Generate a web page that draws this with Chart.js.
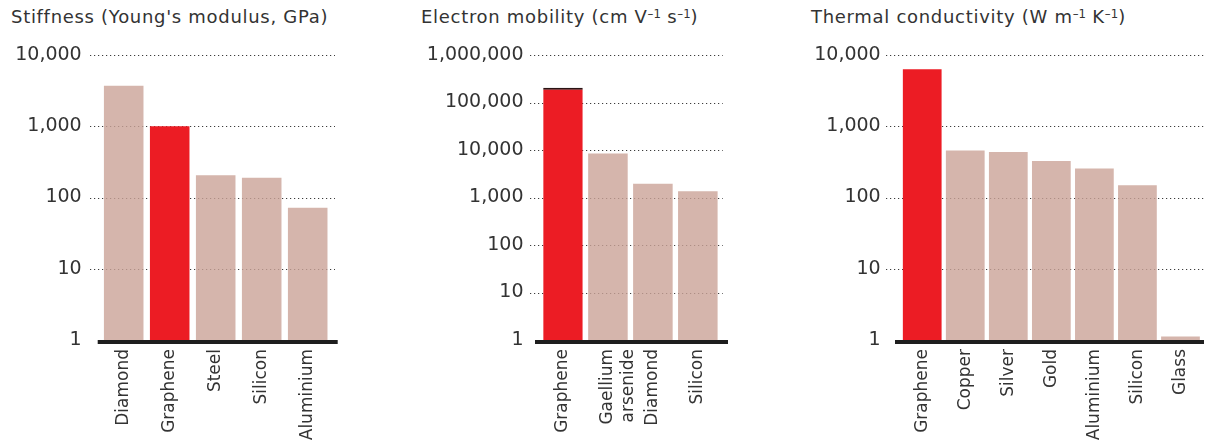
<!DOCTYPE html>
<html lang="en">
<head>
<meta charset="UTF-8">
<title>Graphene compared with other materials</title>
<style>
  body {
    margin: 0;
    background: #ffffff;
    width: 1210px;
    height: 445px;
    position: relative;
    overflow: hidden;
    font-family: "DejaVu Sans", sans-serif;
    color: #333333;
  }
  .title {
    position: absolute;
    top: 6px;
    font-size: 18px;
    letter-spacing: 0.7px;
    white-space: nowrap;
    color: #333333;
  }
  .title sup {
    font-size: 0.65em;
    vertical-align: 0.4em;
    line-height: 0;
    letter-spacing: 0;
  }
  canvas {
    position: absolute;
    top: 0;
  }
</style>
<script src="https://cdn.jsdelivr.net/npm/chart.js"></script>
</head>
<body>
<div class="title" style="left:11px">Stiffness (Young's modulus, GPa)</div>
<div class="title" style="left:421px">Electron mobility (cm V<sup>–1</sup> s<sup>–1</sup>)</div>
<div class="title" style="left:811px">Thermal conductivity (W m<sup>–1</sup> K<sup>–1</sup>)</div>

<canvas id="stiffChart" width="345" height="445" style="left:0px"></canvas>
<canvas id="mobilityChart" width="320" height="445" style="left:410px"></canvas>
<canvas id="thermalChart" width="400" height="445" style="left:810px"></canvas>

<script>
// Stiffness (GPa)
const stiffLabels = ["Diamond", "Graphene", "Steel", "Silicon", "Aluminium"];
const stiffValues = [3700, 1000, 205, 190, 72];
const stiffTicks = [1, 10, 100, 1000, 10000];

// Electron mobility (cm2 V-1 s-1)
const mobilityLabels = ["Graphene", ["Gaellium", "arsenide"], "Diamond", "Silicon"];
const mobilityValues = [205000, 8400, 1950, 1350];
const mobilityTicks = [1, 10, 100, 1000, 10000, 100000, 1000000];

// Thermal conductivity (W m-1 K-1)
const thermalLabels = ["Graphene", "Copper", "Silver", "Gold", "Aluminium", "Silicon", "Glass"];
const thermalValues = [6300, 455, 435, 325, 255, 148, 1.12];
const thermalTicks = [1, 10, 100, 1000, 10000];

const HIGHLIGHT = "Graphene";
const RED = "#ec1c24";
const PINK = "rgba(203, 163, 151, 0.8)";
const FONT = "'DejaVu Sans', sans-serif";

// dotted gridlines under the bars, heavy baseline on top
const framePlugin = {
    id: 'frame',
    beforeDatasetsDraw(chart, args, opts) {
        const { ctx, chartArea } = chart;
        const y = chart.scales.y;
        ctx.save();
        ctx.strokeStyle = '#3c3c3c';
        ctx.lineWidth = 1.2;
        ctx.setLineDash([1.2, 2.8]);
        y.ticks.forEach(t => {
            if (t.value === y.min) return;
            const py = Math.round(y.getPixelForValue(t.value)) + 0.5;
            ctx.beginPath();
            ctx.moveTo(chartArea.left - opts.gridLeft, py);
            ctx.lineTo(chartArea.right + opts.gridRight, py);
            ctx.stroke();
        });
        ctx.restore();
    },
    afterDatasetsDraw(chart, args, opts) {
        const { ctx, chartArea } = chart;
        ctx.save();
        ctx.fillStyle = '#1e1e1e';
        ctx.fillRect(chartArea.left - opts.axisLeft, chartArea.bottom,
            chartArea.width + opts.axisLeft + opts.axisRight, 4);
        ctx.restore();
    }
};

function labelText(l) {
    return Array.isArray(l) ? l.join(' ') : l;
}

function makeChart(id, labels, values, ticks, cfg) {
    const ctx = document.getElementById(id).getContext('2d');
    return new Chart(ctx, {
        type: 'bar',
        data: {
            labels: labels,
            datasets: [{
                data: values,
                backgroundColor: labels.map(l => labelText(l) === HIGHLIGHT ? RED : PINK),
                borderColor: '#2a1414',
                borderWidth: c => (cfg.topEdge && labelText(labels[c.dataIndex]) === HIGHLIGHT)
                    ? { top: 2, left: 0, right: 0, bottom: 0 } : 0,
                borderSkipped: 'start',
                barPercentage: cfg.barPct,
                categoryPercentage: 1
            }]
        },
        options: {
            responsive: false,
            animation: false,
            layout: { padding: { top: 55, right: cfg.rightPad, bottom: 5, left: 0 } },
            plugins: {
                legend: { display: false },
                tooltip: { enabled: false },
                frame: cfg.frame
            },
            scales: {
                x: {
                    grid: { display: false, drawTicks: false },
                    border: { display: false },
                    ticks: {
                        minRotation: 90,
                        maxRotation: 90,
                        autoSkip: false,
                        padding: 9,
                        color: '#333333',
                        font: { family: FONT, size: 17 }
                    },
                    afterFit: s => { s.height = 100; }
                },
                y: {
                    type: 'logarithmic',
                    min: ticks[0],
                    max: ticks[ticks.length - 1],
                    grid: { display: false, drawTicks: false },
                    border: { display: false },
                    afterBuildTicks: s => { s.ticks = ticks.map(v => ({ value: v })); },
                    afterFit: s => { s.width = cfg.axisWidth; },
                    ticks: {
                        padding: cfg.tickPad,
                        color: '#333333',
                        font: { family: FONT, size: 19 },
                        callback: v => Number(v).toLocaleString('en-US')
                    }
                }
            }
        },
        plugins: [framePlugin]
    });
}

makeChart('stiffChart', stiffLabels, stiffValues, stiffTicks, {
    barPct: 0.86, rightPad: 14.3, axisWidth: 100.7, tickPad: 19,
    frame: { gridLeft: 10.7, gridRight: 4.3, axisLeft: 3, axisRight: 7 }
});

makeChart('mobilityChart', mobilityLabels, mobilityValues, mobilityTicks, {
    barPct: 0.88, rightPad: 9.7, axisWidth: 130.5, tickPad: 17, topEdge: true,
    frame: { gridLeft: 10.5, gridRight: 2.4, axisLeft: 5.5, axisRight: 7.7 }
});

makeChart('thermalChart', thermalLabels, thermalValues, thermalTicks, {
    barPct: 0.9, rightPad: 1.8, axisWidth: 90.7, tickPad: 20,
    frame: { gridLeft: 14.7, gridRight: 2, axisLeft: 5.7, axisRight: 2 }
});
</script>
</body>
</html>
